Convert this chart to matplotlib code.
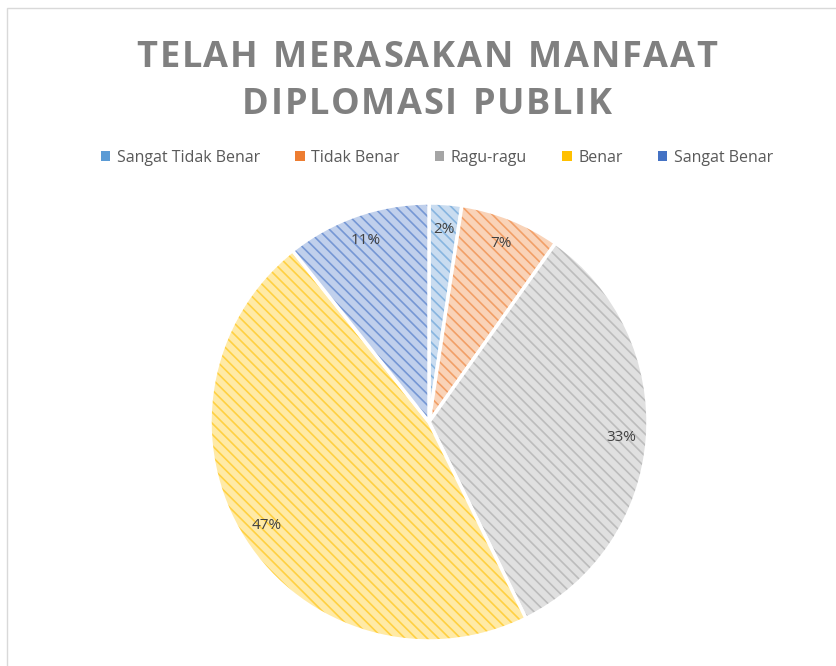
import matplotlib
matplotlib.use('Agg')
import matplotlib.pyplot as plt
from matplotlib.patches import Rectangle, Patch

# survey answers (share of respondents, %)
categories = ['Sangat Tidak Benar', 'Tidak Benar', 'Ragu-ragu', 'Benar', 'Sangat Benar']
shares = [2.4, 7.4, 32.9, 46.6, 10.7]
title_lines = ['TELAH MERASAKAN MANFAAT', 'DIPLOMASI PUBLIK']

base_colors = ['#5B9BD5', '#ED7D31', '#A5A5A5', '#FFC000', '#4472C4']
light_colors = ['#C9DCF0', '#F9D3B8', '#E0E0E0', '#FFEAA6', '#C0D0EC']

plt.rcParams['hatch.linewidth'] = 1.2
W, H = 837, 666
fig = plt.figure(figsize=(W / 100, H / 100), dpi=100)
renderer = fig.canvas.get_renderer()


def spaced_text(xc, y, s, spacing, **kw):
    # draw a string char by char with extra letter spacing (pixels), centred on xc
    widths = []
    for ch in s:
        t = fig.text(0, 0, ch if ch != ' ' else 'I', **kw)
        widths.append(t.get_window_extent(renderer).width)
        t.remove()
    total = sum(widths) + spacing * (len(s) - 1)
    x = xc - total / 2
    for ch, w in zip(s, widths):
        if ch != ' ':
            fig.text(x / W, y, ch, ha='left', va='baseline', **kw)
        x += w + spacing


# chart frame
fig.patches.append(Rectangle((7 / W, -0.1), 2, 1.1 - 8 / H, transform=fig.transFigure,
                             fill=False, edgecolor='#D9D9D9', linewidth=1))

cx, cy, r = 429, 422, 219
lim = 1.03
ax = fig.add_axes([(cx - r * lim) / W, (H - cy - r * lim) / H, 2 * r * lim / W, 2 * r * lim / H])

wedges, texts, autotexts = ax.pie(shares, colors=light_colors, startangle=90, counterclock=False,
                                  autopct='%.0f%%', pctdistance=0.88, radius=1,
                                  wedgeprops=dict(edgecolor='white', linewidth=2.5),
                                  textprops=dict(color='#404040', fontsize=11, family='Open Sans'))
for w, c in zip(wedges, base_colors):
    w.set_hatch('\\\\\\')
    w._hatch_color = matplotlib.colors.to_rgba(c, 0.6)
ax.set_xlim(-lim, lim)
ax.set_ylim(-lim, lim)
ax.axis('off')

title_kw = dict(fontsize=26, fontweight='bold', color='#808080', family='Open Sans')
spaced_text(427, 1 - 67 / H, title_lines[0], 1.7, **title_kw)
spaced_text(427, 1 - 114 / H, title_lines[1], 1.7, **title_kw)

handles = [Patch(facecolor=c, edgecolor='none') for c in base_colors]
fig.legend(handles, categories, loc='center', bbox_to_anchor=(0.522, 1 - 158 / H), ncol=5,
           frameon=False, handlelength=0.6, handleheight=0.6, handletextpad=0.4,
           columnspacing=2.2, prop=dict(family='Open Sans', size=11.5), labelcolor='#595959')

fig.savefig('out.png', dpi=100)
